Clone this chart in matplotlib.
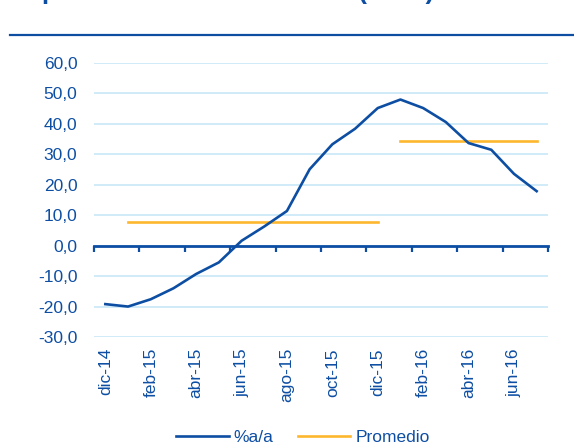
import numpy as np
import matplotlib.pyplot as plt
from matplotlib.lines import Line2D

# monthly data, dic-14 .. jul-16
meses = ['dic-14', 'ene-15', 'feb-15', 'mar-15', 'abr-15', 'may-15', 'jun-15',
         'jul-15', 'ago-15', 'sep-15', 'oct-15', 'nov-15', 'dic-15', 'ene-16',
         'feb-16', 'mar-16', 'abr-16', 'may-16', 'jun-16', 'jul-16']
var_aa = [-19.2, -20.0, -17.6, -14.0, -9.3, -5.5, 1.6, 6.3, 11.4, 25.1,
          33.3, 38.4, 45.2, 48.0, 45.2, 40.6, 33.7, 31.5, 23.6, 17.9]

# period averages (first / last month of each period)
prom_periodos = [('ene-15', 'dic-15'), ('ene-16', 'jul-16')]
prom_valores = [7.8, 34.4]

titulo = 'Importaciones de vehículos (%a/a)'

azul = '#0D4EA3'
naranja = '#FDB72E'
grid_col = '#C5E6F6'
fs = 12.5

plt.rcParams['font.family'] = ['Liberation Sans', 'DejaVu Sans']

fig = plt.figure(figsize=(5.74, 4.46), dpi=100)
ax = fig.add_axes([94/574, 1-337/446, 454/574, 274/446])

x = np.arange(len(meses))
ax.plot(x, var_aa, color=azul, lw=1.9, label='%a/a', zorder=4)
for k, ((a, b), v) in enumerate(zip(prom_periodos, prom_valores)):
    i0, i1 = meses.index(a), meses.index(b)
    xs = x[i0:i1 + 1]
    ax.plot(xs, [v] * len(xs), color=naranja, lw=1.9, zorder=3,
            label='Promedio' if k == 0 else None)

ax.set_xlim(-0.5, len(meses) - 0.5)
ax.set_ylim(-30, 60)
ax.set_yticks(np.arange(-30, 61, 10))
ax.set_yticklabels([f'{v:.1f}'.replace('.', ',') for v in np.arange(-30, 61, 10)])
ax.yaxis.grid(True, color=grid_col, lw=1.1)
ax.set_axisbelow(True)
ax.tick_params(axis='y', length=0, pad=12, labelsize=fs, labelcolor=azul)

for s in ['left', 'right', 'top']:
    ax.spines[s].set_visible(False)
ax.spines['bottom'].set_position(('data', 0))
ax.spines['bottom'].set_color(azul)
ax.spines['bottom'].set_linewidth(2.0)
ax.set_xticks(np.arange(-0.5, len(meses), 2))
ax.tick_params(axis='x', direction='out', length=4.5, width=1.6, color=azul,
               labelbottom=False)

sec = ax.secondary_xaxis(0)
sec.set_xticks(x[::2], meses[::2], rotation=90)
sec.spines['bottom'].set_visible(False)
sec.tick_params(length=0, pad=8, labelsize=fs, labelcolor=azul)

# cut-off title and separator line
fig.text(12/574, 1 + 1/446, titulo, color=azul, fontsize=18.5, fontweight='bold',
         ha='left', va='baseline')
fig.add_artist(Line2D([10/574, 1], [1 - 34.5/446] * 2, color=azul, lw=1.6,
                      transform=fig.transFigure))

leg = fig.legend(loc='center', bbox_to_anchor=(303/574, 1 - 437/446), ncol=2,
                 frameon=False, fontsize=fs, handlelength=3.0,
                 handletextpad=0.3, columnspacing=1.4)
for t in leg.get_texts():
    t.set_color(azul)

fig.savefig('out.png', dpi=100)
